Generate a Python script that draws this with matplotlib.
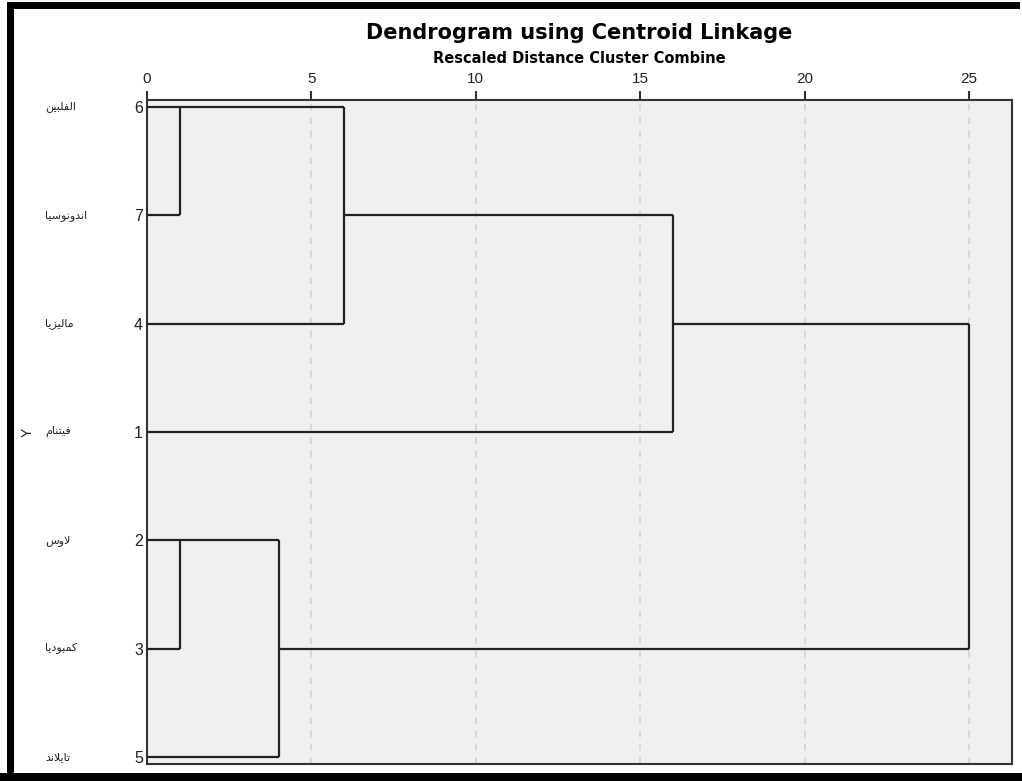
import matplotlib
matplotlib.use("Agg")
import matplotlib.pyplot as plt
from matplotlib.patches import Rectangle
import matplotlib.transforms as mtransforms

# ---------------- data ----------------
leaf_ids = ["6", "7", "4", "1", "2", "3", "5"]          # top -> bottom
# Arabic names, already shaped (presentation forms) in visual order
leaf_names = [
    "\uFEE6\uFEF4\uFE92\uFEE0\uFED4\uFEDF\uFE8D",                  # الفلبين
    "\uFE8E\uFEF4\uFEB3\uFEEE\uFEE7\uFEED\uFEAA\uFEE7\uFE8D",      # اندونوسيا
    "\uFE8E\uFEF3\uFEB0\uFEF4\uFEDF\uFE8E\uFEE3",                  # ماليزيا
    "\uFEE1\uFE8E\uFEE8\uFE98\uFEF4\uFED3",                        # فيتنام
    "\uFEB1\uFEED\uFEFB",                                          # لاوس
    "\uFE8E\uFEF3\uFEA9\uFEEE\uFE92\uFEE4\uFEDB",                  # كمبوديا
    "\uFEAA\uFEE7\uFEFC\uFEF3\uFE8E\uFE97",                        # تايلاند
]
merge_a = ["6", "2", "2+3", "6+7", "6+7+4", "6+7+4+1"]
merge_b = ["7", "3", "5", "4", "1", "2+3+5"]
merge_dist = [1, 1, 4, 6, 16, 25]
x_ticks = [0, 5, 10, 15, 20, 25]

# ---------------- figure ----------------
W, H = 1022, 781
fig = plt.figure(figsize=(W / 100, H / 100), dpi=100)
fig.patch.set_facecolor("white")

ax = fig.add_axes([147 / W, 1 - 764 / H, (1012 - 147) / W, (764 - 100) / H])
ax.set_facecolor("#f0f0f0")

row = {lid: i for i, lid in enumerate(leaf_ids)}
height = {lid: 0.0 for lid in leaf_ids}
lc = "#222222"
lw = 1.6
for a, b, d in zip(merge_a, merge_b, merge_dist):
    ra, rb = row[a], row[b]
    for c in (a, b):
        ax.plot([height[c], d], [row[c], row[c]], color=lc, lw=lw,
                solid_capstyle="butt", zorder=3)
    ax.plot([d, d], [ra, rb], color=lc, lw=lw, solid_capstyle="butt", zorder=3)
    new = a + "+" + b
    row[new] = (ra + rb) // 2
    height[new] = d

# grid
for t in x_ticks[1:]:
    ax.axvline(t, color="#d2d2d2", lw=1.2, ls=(0, (4, 4)), zorder=1)

ax.set_xlim(0, (1012 - 147) / ((969 - 147) / 25))
step = (757 - 107) / 6
ax.set_ylim(6 + (764 - 757) / step, -(107 - 100) / step)

ax.xaxis.tick_top()
ax.set_xticks(x_ticks)
ax.set_xticklabels([str(t) for t in x_ticks], family="Liberation Sans",
                   fontsize=11, color="#222222")
ax.tick_params(axis="x", which="major", direction="out", length=6.5, width=1.5,
               color="#333333", pad=3.5)
ax.set_yticks(range(len(leaf_ids)))
ax.set_yticklabels(leaf_ids, family="Liberation Sans", fontsize=11.5,
                   color="#222222")
ax.tick_params(axis="y", length=0, pad=3)
for s in ax.spines.values():
    s.set_color("#333333")
    s.set_linewidth(1.5)

# Arabic case names
trans = mtransforms.blended_transform_factory(fig.transFigure, ax.transData)
for i, nm in enumerate(leaf_names):
    ax.text(45 / W, i, nm, transform=trans, ha="left", va="center",
            fontsize=8, family=["DejaVu Sans"], color="#222222")

fig.text(28 / W, 1 - 432 / H, "Y", rotation=90, ha="center", va="center",
         fontsize=10, family="Liberation Sans", color="#222222")

# titles
cx = (147 + 1012) / 2 / W
fig.text(cx, 1 - 39 / H, "Dendrogram using Centroid Linkage", ha="center",
         va="baseline", fontsize=15, fontweight="bold", family="DejaVu Sans")
fig.text(cx, 1 - 63 / H, "Rescaled Distance Cluster Combine", ha="center",
         va="baseline", fontsize=10.5, fontweight="bold", family="DejaVu Sans")

# black frame
for (x0, y0, w, h) in [(7, 2, 1013, 7), (7, 2, 7, 779), (0, 773, 1022, 8)]:
    fig.add_artist(Rectangle((x0 / W, 1 - (y0 + h) / H), w / W, h / H,
                             transform=fig.transFigure, color="black", lw=0))

fig.savefig("out.png", dpi=100)
